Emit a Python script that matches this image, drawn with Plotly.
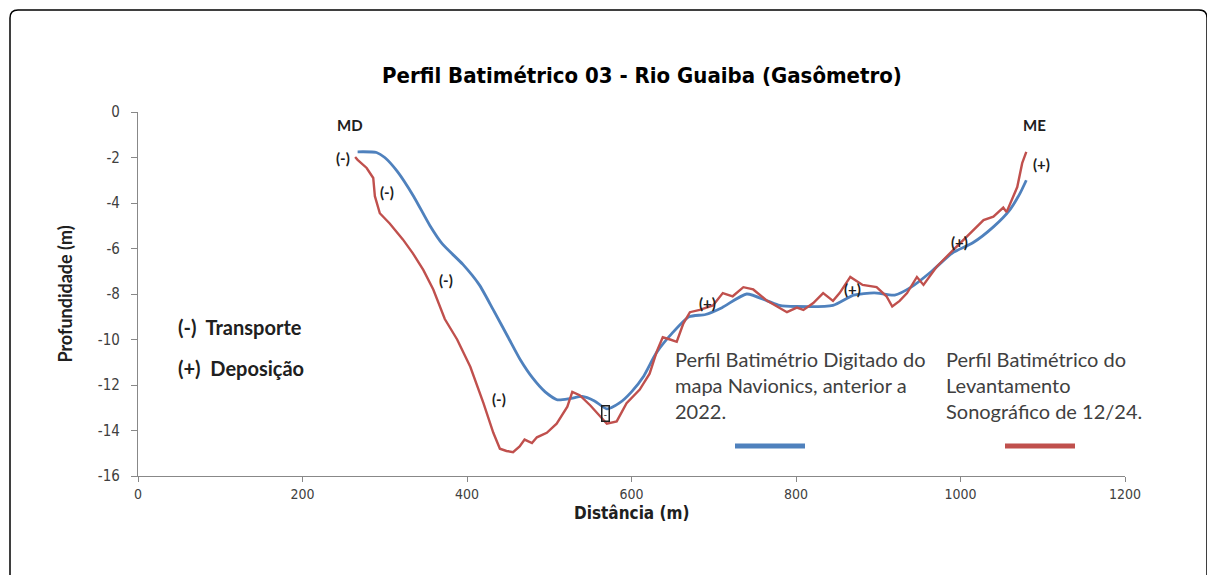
import plotly.graph_objects as go

# ---- data ----
blue_x = [267, 290, 300, 315, 335, 355, 370, 395, 415, 432, 450, 465, 480, 495, 510,
          525, 540, 555, 570, 585, 600, 615, 630, 650, 670, 690, 710, 740, 765, 780,
          800, 845, 870, 895, 920, 940, 965, 990, 1015, 1040, 1060, 1072, 1080]
blue_y = [-1.75, -1.78, -2.0, -2.6, -3.7, -5.0, -5.8, -6.7, -7.6, -8.7, -9.9, -10.9, -11.7, -12.3, -12.65,
          -12.6, -12.5, -12.7, -13.05, -12.8, -12.3, -11.6, -10.6, -9.7, -9.0, -8.9, -8.6, -8.0, -8.3, -8.5,
          -8.55, -8.5, -8.05, -7.95, -8.05, -7.7, -7.0, -6.2, -5.75, -5.05, -4.3, -3.6, -3.0]

red_x = [264, 267, 278, 286, 288, 294, 306, 322, 334, 347, 359, 373, 388, 404, 420,
         432, 440, 448, 456, 464, 470, 479, 485, 497, 509, 522, 528, 537, 550, 562, 570,
         582, 594, 610, 622, 631, 638, 647, 655, 663, 671, 683, 699, 711, 723, 736,
         748, 765, 780, 789, 801, 809, 821, 833, 845, 853, 866, 881, 898, 910, 917,
         926, 935, 947, 955, 971, 991, 1007, 1028, 1040, 1052, 1056, 1069, 1075, 1080]
red_y = [-1.98, -2.1, -2.46, -2.9, -3.7, -4.45, -4.9, -5.6, -6.2, -6.95, -7.8, -9.1, -10.0, -11.2, -12.8,
         -14.1, -14.8, -14.9, -14.95, -14.7, -14.4, -14.55, -14.3, -14.1, -13.7, -12.95, -12.3, -12.45, -12.9, -13.4, -13.7,
         -13.6, -12.8, -12.2, -11.5, -10.5, -9.9, -10.0, -10.1, -9.3, -8.8, -8.7, -8.5, -7.96, -8.1, -7.7,
         -7.8, -8.3, -8.6, -8.8, -8.6, -8.7, -8.4, -7.96, -8.3, -7.96, -7.25, -7.6, -7.7, -8.1, -8.55,
         -8.3, -7.96, -7.25, -7.6, -6.8, -6.07, -5.5, -4.75, -4.6, -4.2, -4.4, -3.3, -2.25, -1.75]

x_ticks = [0, 200, 400, 600, 800, 1000, 1200]
y_ticks = [0, -2, -4, -6, -8, -10, -12, -14, -16]

title_text = "Perfil Batimétrico 03 - Rio Guaiba (Gasômetro)"
x_title = "Distância (m)"
y_title = "Profundidade (m)"
blue_name = "Perfil Batimétrio Digitado do<br>mapa Navionics, anterior a<br>2022."
red_name = "Perfil Batimétrico do<br>Levantamento<br>Sonográfico de 12/24."

marks = [  # (x, y, text)
    (249, -2.0, "(-)"), (303, -3.5, "(-)"), (374, -7.4, "(-)"), (439, -12.6, "(-)"),
    (693, -8.4, "(+)"), (869, -7.8, "(+)"), (999, -5.7, "(+)"), (1099, -2.3, "(+)"),
]

BLUE = "#4F81BD"
RED = "#C0504D"
TXT = "#404040"
FONT = "Lato, 'Open Sans', sans-serif"
NARROW = "'Liberation Sans Narrow', 'DejaVu Sans Condensed', 'Arial Narrow', sans-serif"

# page offset (body margin) -> plot area at x 138..1125, y 112..476 in the window
L, T, R, B = 130, 104, 98, 107

fig = go.Figure()
fig.add_trace(go.Scatter(x=blue_x, y=blue_y, mode="lines", name="Navionics",
                         line=dict(color=BLUE, width=2.8, shape="spline", smoothing=0.6)))
fig.add_trace(go.Scatter(x=red_x, y=red_y, mode="lines", name="Levantamento",
                         line=dict(color=RED, width=2.4)))

ann = []
for x, y, t in marks:
    ann.append(dict(x=x, y=y, xref="x", yref="y", text="<b>" + t + "</b>", showarrow=False,
                    font=dict(family=FONT, size=15, color="#202020")))
# boxed mark
ann.append(dict(x=568, y=-13.25, xref="x", yref="y", text="-", showarrow=False,
                font=dict(family=FONT, size=10, color="#202020"),
                bordercolor="#202020", borderwidth=1.5, borderpad=1))
ann.append(dict(x=258, y=-0.55, xref="x", yref="y", text="<b>MD</b>", showarrow=False,
                font=dict(family=FONT, size=15, color="#202020")))
ann.append(dict(x=1090, y=-0.55, xref="x", yref="y", text="<b>ME</b>", showarrow=False,
                font=dict(family=FONT, size=15, color="#202020")))
ann.append(dict(x=46, y=-9.45, xref="x", yref="y", text="<b>(-)  Transporte</b>", showarrow=False,
                xanchor="left", font=dict(family=FONT, size=20, color="#202020")))
ann.append(dict(x=46, y=-11.25, xref="x", yref="y", text="<b>(+)  Deposição</b>", showarrow=False,
                xanchor="left", font=dict(family=FONT, size=20, color="#202020")))


def px(xp):
    return (xp - 138) / 987


def py(yp):
    return (476 - yp) / 364


ann.append(dict(x=px(673), y=py(345), xref="paper", yref="paper",
                text=blue_name, showarrow=False, xanchor="left", yanchor="top", align="left",
                font=dict(family=FONT, size=20, color=TXT)))
ann.append(dict(x=px(944), y=py(345), xref="paper", yref="paper",
                text=red_name, showarrow=False, xanchor="left", yanchor="top", align="left",
                font=dict(family=FONT, size=20, color=TXT)))
# x-axis title, placed tight under the tick labels as in the reference
ann.append(dict(x=px(631), y=py(513), xref="paper", yref="paper",
                text="<b>" + x_title + "</b>", showarrow=False, xanchor="center", yanchor="middle",
                font=dict(family=NARROW, size=17, color="#202020")))

# rounded outer frame
x0, x1, y0, y1 = px(10), px(1207), py(600), py(10)
rx, ry = 8 / 987, 8 / 364
frame_path = (f"M {x0},{y0} L {x0},{y1 - ry} Q {x0},{y1} {x0 + rx},{y1} "
              f"L {x1 - rx},{y1} Q {x1},{y1} {x1},{y1 - ry} L {x1},{y0} Z")

shapes = [
    dict(type="line", xref="paper", yref="paper", x0=px(735), x1=px(805), y0=py(446), y1=py(446),
         line=dict(color=BLUE, width=5)),
    dict(type="line", xref="paper", yref="paper", x0=px(1005), x1=px(1075), y0=py(446), y1=py(446),
         line=dict(color=RED, width=5)),
    dict(type="path", xref="paper", yref="paper", path=frame_path,
         line=dict(color="#000000", width=1.5)),
]

fig.update_layout(
    width=1215, height=575,
    margin=dict(l=L, r=R, t=T, b=B),
    paper_bgcolor="white", plot_bgcolor="white",
    showlegend=False,
    title=dict(text="<b>" + title_text + "</b>", x=(642 - 8) / 1215, xanchor="center",
               y=1 - (75 - 8) / 575, yanchor="middle",
               font=dict(family=NARROW, size=22, color="#000000")),
    annotations=ann, shapes=shapes,
    xaxis=dict(range=[0, 1200], tickvals=x_ticks, ticktext=[str(v) for v in x_ticks],
               ticks="outside", ticklen=5, tickcolor="#888888",
               showline=True, linecolor="#888888", linewidth=1.2, showgrid=False, zeroline=False,
               ticklabelstandoff=0,
               tickfont=dict(family=NARROW, size=14, color="#404040")),
    yaxis=dict(range=[-16, 0], tickvals=y_ticks, ticktext=[str(v) for v in y_ticks],
               ticks="outside", ticklen=6, tickcolor="#888888",
               showline=True, linecolor="#888888", linewidth=1.2, showgrid=False, zeroline=False,
               ticklabelstandoff=8,
               tickfont=dict(family=NARROW, size=15, color="#404040"),
               title=dict(text="<b>" + y_title + "</b>", standoff=20,
                          font=dict(family=FONT, size=18, color="#202020"))),
)

fig.write_html("out.html")
